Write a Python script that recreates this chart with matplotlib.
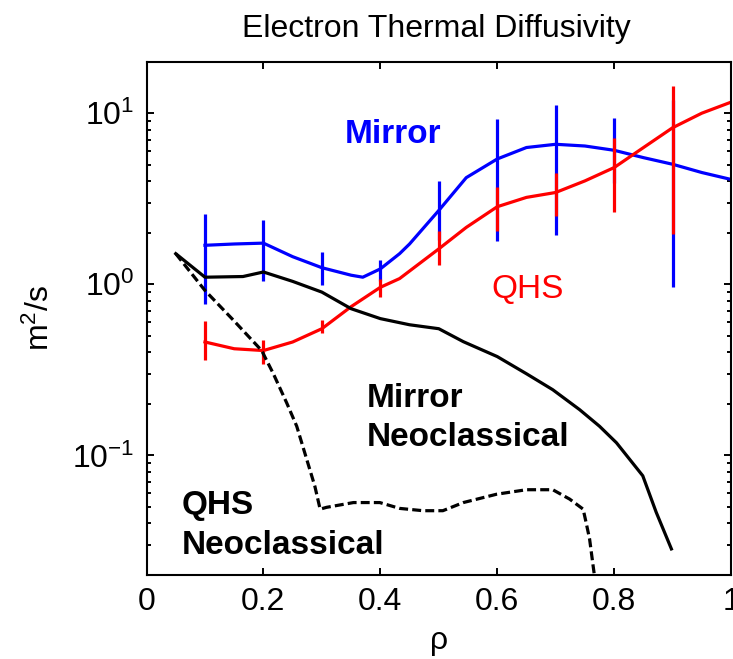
import matplotlib
matplotlib.use('Agg')
import matplotlib.pyplot as plt
from matplotlib.ticker import FixedLocator, NullLocator, LogLocator

plt.rcParams['font.family'] = ['Liberation Sans', 'DejaVu Sans']
plt.rcParams['mathtext.fontset'] = 'custom'
plt.rcParams['mathtext.rm'] = 'Liberation Sans'
plt.rcParams['mathtext.it'] = 'Liberation Sans:italic'
plt.rcParams['mathtext.bf'] = 'Liberation Sans:bold'
plt.rcParams['axes.unicode_minus'] = False

# Mirror 实验曲线 (蓝)
rho_mirror = [0.1, 0.15, 0.2, 0.25, 0.3, 0.35, 0.37, 0.4, 0.433, 0.45, 0.5,
              0.547, 0.6, 0.65, 0.7, 0.75, 0.8, 0.85, 0.9, 0.95, 1.0]
chi_mirror = [1.69, 1.72, 1.74, 1.45, 1.25, 1.13, 1.10, 1.23, 1.51, 1.72, 2.7,
              4.2, 5.4, 6.3, 6.58, 6.43, 6.07, 5.5, 5.03, 4.5, 4.1]

# QHS 实验曲线 (红)
rho_qhs = [0.1, 0.15, 0.2, 0.25, 0.3, 0.35, 0.4, 0.433, 0.5, 0.547, 0.6,
           0.65, 0.7, 0.75, 0.8, 0.85, 0.9, 0.95, 1.0]
chi_qhs = [0.46, 0.42, 0.41, 0.46, 0.55, 0.74, 0.96, 1.08, 1.61, 2.15, 2.84,
           3.22, 3.44, 4.02, 4.81, 6.29, 8.22, 10.0, 11.6]

# 误差棒
rho_err = [0.1, 0.2, 0.3, 0.4, 0.5, 0.6, 0.7, 0.8, 0.9]
mirror_lo = [0.77, 1.05, 0.99, 1.05, 1.82, 1.80, 1.95, 3.9, 0.965]
mirror_hi = [2.59, 2.36, 1.54, 1.38, 4.02, 9.2, 11.2, 9.4, 12.0]
qhs_lo = [0.36, 0.34, 0.52, 0.84, 1.29, 2.06, 2.52, 2.63, 1.97]
qhs_hi = [0.61, 0.47, 0.62, 1.08, 2.06, 3.68, 4.5, 7.18, 14.4]

# 新经典输运 (黑)
rho_neo_mirror = [0.05, 0.1, 0.165, 0.2, 0.25, 0.3, 0.35, 0.4, 0.45, 0.5, 0.542,
                  0.6, 0.65, 0.695, 0.741, 0.775, 0.804, 0.849, 0.872, 0.898]
chi_neo_mirror = [1.51, 1.10, 1.11, 1.18, 1.04, 0.90, 0.72, 0.63, 0.58, 0.55, 0.462,
                  0.378, 0.30, 0.242, 0.185, 0.148, 0.1185, 0.076, 0.0465, 0.0284]

rho_neo_qhs = [0.05, 0.1, 0.148, 0.197, 0.217, 0.24, 0.257, 0.274, 0.288, 0.297,
               0.308, 0.354, 0.399, 0.433, 0.473, 0.507, 0.542, 0.599, 0.65, 0.695,
               0.724, 0.747, 0.752, 0.758, 0.764, 0.768]
chi_neo_qhs = [1.51, 0.92, 0.62, 0.41, 0.30, 0.202, 0.148, 0.095, 0.066, 0.0485,
               0.0497, 0.053, 0.053, 0.049, 0.0475, 0.0475, 0.053, 0.0593, 0.063, 0.063,
               0.0555, 0.0485, 0.0406, 0.0325, 0.0227, 0.018]

x_ticks = [0, 0.2, 0.4, 0.6, 0.8, 1.0]
x_ticklabels = ['0', '0.2', '0.4', '0.6', '0.8', '1']

fig = plt.figure(figsize=(7.33, 6.59), dpi=100)
ax = fig.add_axes([0.1999, 0.1275, 0.7974, 0.7789])

lw = 2.3
ax.plot(rho_mirror, chi_mirror, color='#0000ff', lw=lw)
ax.vlines(rho_err, mirror_lo, mirror_hi, color='#0000ff', lw=lw)
ax.plot(rho_qhs, chi_qhs, color='#ff0000', lw=lw)
ax.vlines(rho_err, qhs_lo, qhs_hi, color='#ff0000', lw=lw)
ax.plot(rho_neo_mirror, chi_neo_mirror, color='black', lw=lw)
ax.plot(rho_neo_qhs, chi_neo_qhs, color='black', lw=lw, linestyle=(0, (2.8, 1.3)))

ax.set_yscale('log')
ax.set_xlim(0, 1)
ax.set_ylim(0.02, 20)

ax.xaxis.set_major_locator(FixedLocator(x_ticks))
ax.set_xticklabels(x_ticklabels)
ax.xaxis.set_minor_locator(NullLocator())
ax.yaxis.set_major_locator(LogLocator(base=10, numticks=10))
ax.yaxis.set_minor_locator(LogLocator(base=10, subs=range(2, 10), numticks=20))

ax.tick_params(which='both', direction='in', top=True, right=True,
               labelsize=23, width=1.4, colors='black')
ax.tick_params(which='major', length=5, pad=9)
ax.tick_params(which='minor', length=3)
for s in ax.spines.values():
    s.set_linewidth(1.5)

ax.set_xlabel('ρ', fontsize=23, labelpad=6)
ax.set_ylabel('m$^{2}$/s', fontsize=23, labelpad=11)
fig.text(0.595, 0.944, 'Electron Thermal Diffusivity', fontsize=23,
         ha='center', va='baseline')

# 曲线标注
ax.text(0.339, 6.72, 'Mirror', color='#0000ff', fontsize=24, fontweight='bold',
        ha='left', va='baseline')
ax.text(0.59, 0.826, 'QHS', color='#ff0000', fontsize=24,
        ha='left', va='baseline')
ax.text(0.376, 0.192, 'Mirror', color='black', fontsize=24, fontweight='bold',
        ha='left', va='baseline')
ax.text(0.376, 0.113, 'Neoclassical', color='black', fontsize=24, fontweight='bold',
        ha='left', va='baseline')
ax.text(0.060, 0.0454, 'QHS', color='black', fontsize=24, fontweight='bold',
        ha='left', va='baseline')
ax.text(0.060, 0.0266, 'Neoclassical', color='black', fontsize=24, fontweight='bold',
        ha='left', va='baseline')

fig.savefig('out.png', dpi=100)
